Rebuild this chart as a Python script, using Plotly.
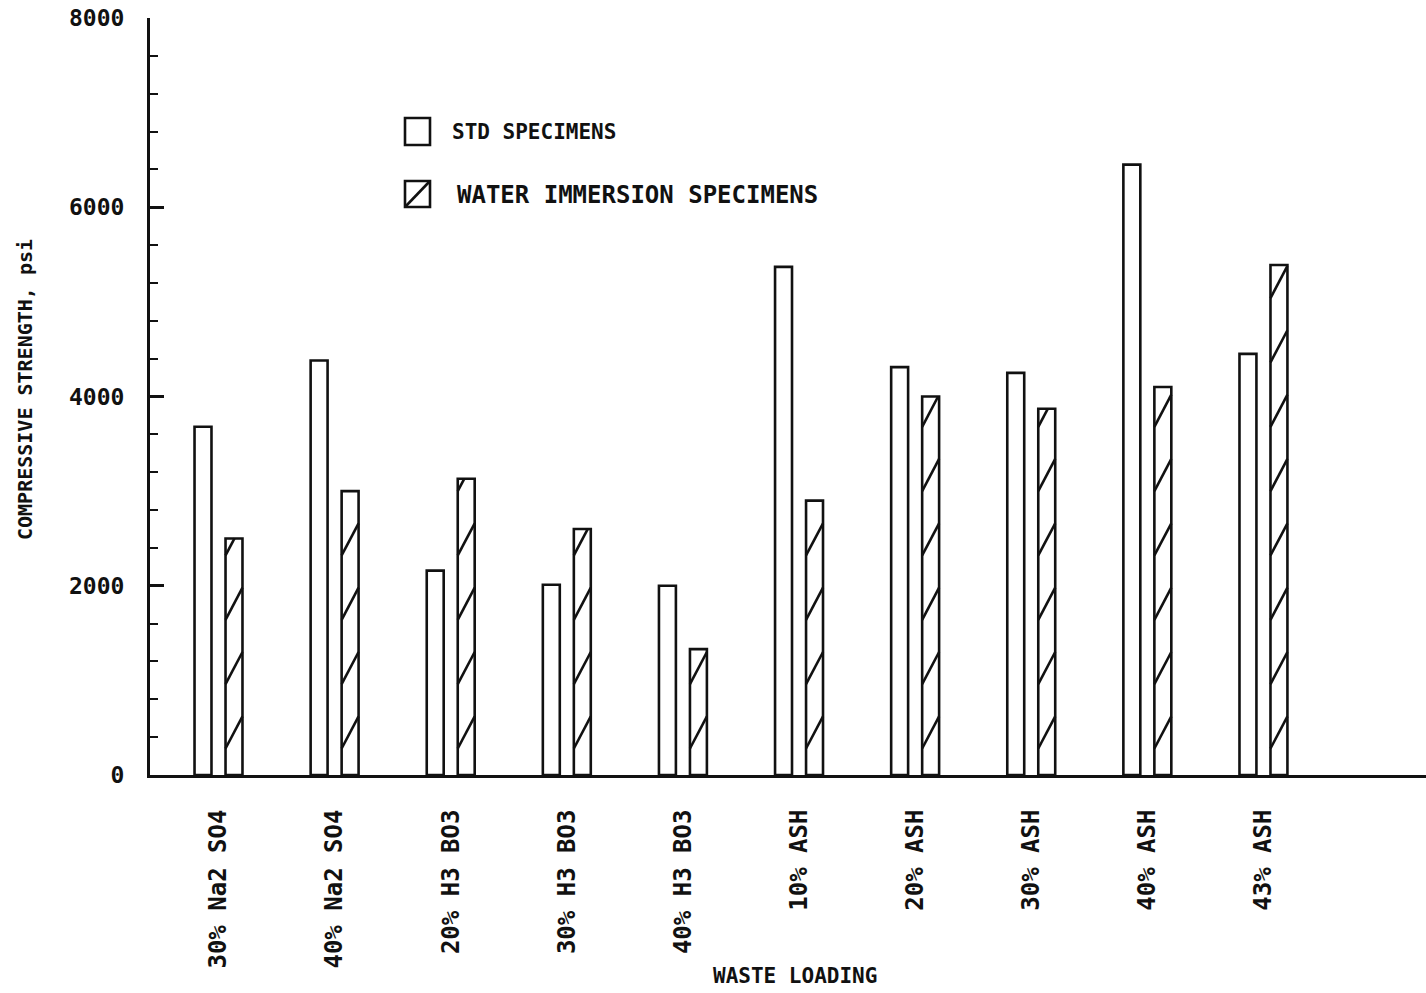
import plotly.graph_objects as go

# Waste loading categories and compressive strengths (psi)
categories = ["30% Na2 SO4", "40% Na2 SO4", "20% H3 BO3", "30% H3 BO3", "40% H3 BO3",
              "10% ASH", "20% ASH", "30% ASH", "40% ASH", "43% ASH"]
std_specimens = [3680, 4380, 2160, 2010, 2000, 5370, 4310, 4250, 6450, 4450]
water_immersion = [2500, 3000, 3130, 2600, 1330, 2900, 4000, 3870, 4100, 5390]
y_tick_values = [0, 2000, 4000, 6000, 8000]

W, H = 1426, 993
ML, MR, MT, MB = 150, 0, 18, 218
FONT = "DejaVu Sans Mono, Liberation Mono, monospace"
INK = "#111111"

BAR_W = 0.146
STD_OFF = -0.2065
WAT_OFF = 0.0605

idx = list(range(len(categories)))

fig = go.Figure()
fig.add_trace(go.Bar(x=idx, y=std_specimens, width=BAR_W, offset=STD_OFF,
                     marker=dict(color="white", line=dict(color=INK, width=2.6)),
                     name="STD SPECIMENS", showlegend=False))
fig.add_trace(go.Bar(x=idx, y=water_immersion, width=BAR_W, offset=WAT_OFF,
                     marker=dict(color="white", line=dict(color=INK, width=2.6)),
                     name="WATER IMMERSION SPECIMENS", showlegend=False))

# Diagonal hatching inside the water-immersion bars
HATCH_STEP, HATCH_RISE, HATCH_PHASE = 680, 340, 280
hx, hy = [], []
for i, v in zip(idx, water_immersion):
    xl = i + WAT_OFF
    xr = xl + BAR_W
    y0 = HATCH_PHASE
    while y0 < v:
        y1 = y0 + HATCH_RISE
        if y1 > v:
            frac = (v - y0) / HATCH_RISE
            hx += [xl, xl + frac * BAR_W, None]
            hy += [y0, v, None]
        else:
            hx += [xl, xr, None]
            hy += [y0, y1, None]
        y0 += HATCH_STEP
fig.add_trace(go.Scatter(x=hx, y=hy, mode="lines", line=dict(color=INK, width=2.6),
                         hoverinfo="skip", showlegend=False))

pw, ph = W - ML - MR, H - MT - MB


def px(x):
    return (x - ML) / pw


def py(y):
    return (H - MB - y) / ph


shapes = [
    dict(type="rect", xref="paper", yref="paper", x0=px(405), x1=px(430), y0=py(145), y1=py(118),
         line=dict(color=INK, width=2.6), fillcolor="white"),
    dict(type="rect", xref="paper", yref="paper", x0=px(405), x1=px(430), y0=py(207), y1=py(181),
         line=dict(color=INK, width=2.6), fillcolor="white"),
    dict(type="line", xref="paper", yref="paper", x0=px(405), x1=px(430), y0=py(207), y1=py(181),
         line=dict(color=INK, width=2.6)),
]


def bold(s):
    return "<b>" + s + "</b>"


annotations = [
    dict(text=bold("STD SPECIMENS"), xref="paper", yref="paper", x=px(450), y=py(132),
         xanchor="left", yanchor="middle", showarrow=False, font=dict(size=21, color=INK, family=FONT)),
    dict(text=bold("WATER IMMERSION SPECIMENS"), xref="paper", yref="paper", x=px(455), y=py(195),
         xanchor="left", yanchor="middle", showarrow=False, font=dict(size=24, color=INK, family=FONT)),
    dict(text=bold("COMPRESSIVE STRENGTH, psi"), xref="paper", yref="paper", x=px(25), y=py(390),
         xanchor="center", yanchor="middle", textangle=-90, showarrow=False,
         font=dict(size=20, color=INK, family=FONT)),
    dict(text=bold("WASTE LOADING"), xref="paper", yref="paper", x=px(795), y=py(976),
         xanchor="center", yanchor="middle", showarrow=False,
         font=dict(size=21, color=INK, family=FONT)),
]

fig.update_layout(
    width=W, height=H,
    margin=dict(l=ML, r=MR, t=MT, b=MB, pad=0),
    plot_bgcolor="white", paper_bgcolor="white",
    barmode="overlay",
    shapes=shapes, annotations=annotations,
    font=dict(family=FONT, color=INK),
)
fig.update_xaxes(
    range=[-0.59, 10.40], tickmode="array", tickvals=idx, ticktext=[bold(c) for c in categories],
    tickangle=-90, ticks="", showgrid=False, zeroline=False,
    showline=True, linecolor=INK, linewidth=3,
    tickfont=dict(size=24, family=FONT, color=INK), ticklabelstandoff=22,
)
fig.update_yaxes(
    range=[0, 8000], tickmode="array", tickvals=y_tick_values,
    ticktext=[bold(str(v)) for v in y_tick_values],
    ticks="inside", ticklen=14, tickwidth=2.6, tickcolor=INK,
    minor=dict(ticks="inside", dtick=400, ticklen=8, tickwidth=2.4, tickcolor=INK, showgrid=False),
    showgrid=False, zeroline=False, showline=True, linecolor=INK, linewidth=3,
    tickfont=dict(size=23, family=FONT, color=INK), ticklabelstandoff=18,
)

fig.write_html("out.html")
